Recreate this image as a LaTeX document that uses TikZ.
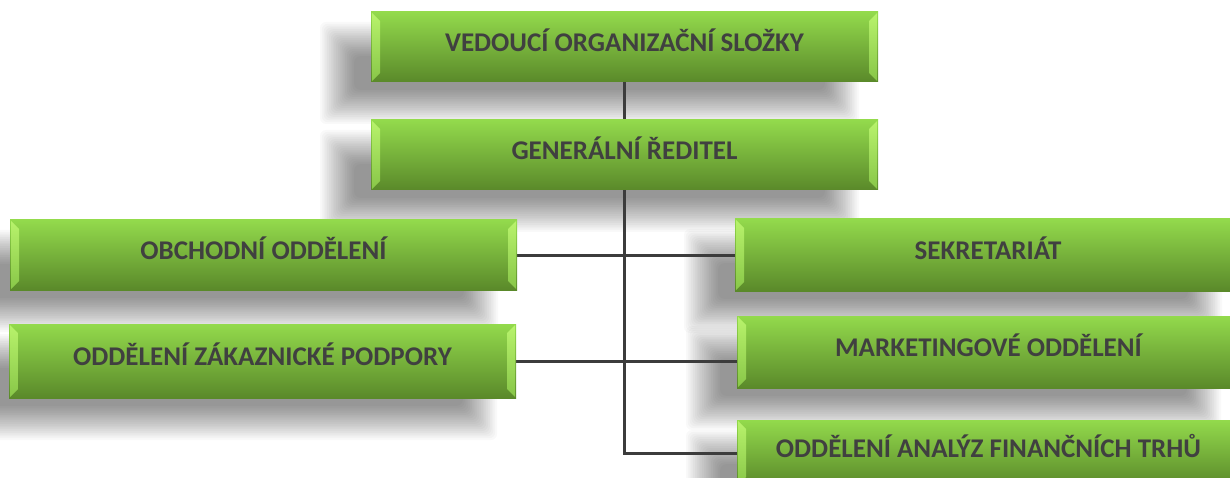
\documentclass[tikz,border=0pt]{standalone}
\usepackage{fontspec}
\setmainfont{Carlito}
\definecolor{txt}{HTML}{404040}
\definecolor{gtop}{HTML}{93DA4C}
\definecolor{gmid}{HTML}{7FC23F}
\definecolor{gbot}{HTML}{5A892A}
\definecolor{bevtop}{HTML}{B8F36C}
\definecolor{bevbot}{HTML}{88C648}
\definecolor{linec}{HTML}{3C3C3C}
\pgfdeclarelayer{bg}
\pgfsetlayers{bg,main}
\newcommand\boxshadow[1]{%
  \foreach \i in {0,...,19} {%
    \pgfmathsetmacro\e{16-1.8*\i}%
    \fill[black, opacity=0.022, rounded corners=6pt]
      ([xshift={(-35-(\e))*1pt}, yshift={(-26+(\e))*1pt}]#1.north west) rectangle
      ([xshift={(-35+(\e))*1pt}, yshift={(-26-(\e))*1pt}]#1.south east);
  }}
\begin{document}
\begin{tikzpicture}[x=1pt,y=-1pt,
  orgbox/.style 2 args={minimum width=#1pt, minimum height=#2pt, inner sep=0pt, outer sep=0pt,
    top color=gtop, middle color=gmid, bottom color=gbot,
    font=\bfseries\fontsize{27}{32}\selectfont, text=txt,
    text height=17.4pt, text depth=8pt,
    path picture={
      \shade[top color=bevtop, bottom color=bevbot]
        ([xshift=1pt,yshift=-1pt]path picture bounding box.north west)
        -- ([xshift=9pt,yshift=-9pt]path picture bounding box.north west)
        -- ([xshift=9pt,yshift=9pt]path picture bounding box.south west)
        -- ([xshift=1pt,yshift=1pt]path picture bounding box.south west) -- cycle;
      \shade[top color=bevtop, bottom color=bevbot]
        ([xshift=-1pt,yshift=-1pt]path picture bounding box.north east)
        -- ([xshift=-9pt,yshift=-9pt]path picture bounding box.north east)
        -- ([xshift=-9pt,yshift=9pt]path picture bounding box.south east)
        -- ([xshift=-1pt,yshift=1pt]path picture bounding box.south east) -- cycle;
    }},
  conn/.style={draw=linec, line width=3pt}]
\useasboundingbox (0,0) rectangle (1230,478);

\node[orgbox={507}{70}] (ved) at (624.5,47) {VEDOUCÍ ORGANIZAČNÍ SLOŽKY};
\node[orgbox={507}{70}] (gen) at (624.5,155) {GENERÁLNÍ ŘEDITEL};
\node[orgbox={507}{70}] (obch) at (263.5,255) {OBCHODNÍ ODDĚLENÍ};
\node[orgbox={506}{72}] (sek) at (988,255) {SEKRETARIÁT};
\node[orgbox={503}{72}] (mkt) at (988.5,352) {MARKETINGOVÉ ODDĚLENÍ};
\node[orgbox={507}{74}] (zak) at (262.5,361) {ODDĚLENÍ ZÁKAZNICKÉ PODPORY};
\node[orgbox={503}{66}] (fin) at (988.5,453) {ODDĚLENÍ ANALÝZ FINANČNÍCH TRHŮ};

\begin{pgfonlayer}{bg}
  \fill[white] (0,0) rectangle (1230,478);
  \foreach \n in {ved,gen,obch,sek,mkt,zak,fin} {\boxshadow{\n}}
  \draw[conn] (ved) -- (gen);
  \draw[conn] (gen.south) |- (fin.west);
  \draw[conn] (obch.east) -- (sek.west);
  \draw[conn] (zak.east) -- (zak.east -| mkt.west);
\end{pgfonlayer}
\end{tikzpicture}
\end{document}
